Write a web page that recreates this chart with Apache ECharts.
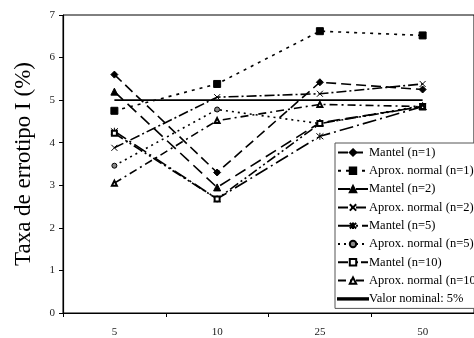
<!DOCTYPE html>
<html>
<head>
<meta charset="utf-8">
<script src="https://cdn.jsdelivr.net/npm/echarts@6/dist/echarts.min.js"></script>
<style>
  html, body { margin: 0; padding: 0; background: #fff; }
  #chart { width: 474px; height: 338px; }
</style>
</head>
<body>
<div id="chart"></div>
<script>
// Sample sizes on the horizontal axis
const categories = ['5', '10', '25', '50'];
const yTicks = [0, 1, 2, 3, 4, 5, 6, 7];

// Type I error rates (%) by test and number of variables
const mantelN1 = [5.60, 3.30, 5.42, 5.25];
const normalN1 = [4.75, 5.38, 6.62, 6.52];
const mantelN2 = [5.20, 2.95, 4.47, 4.85];
const normalN2 = [3.88, 5.07, 5.15, 5.38];
const mantelN5 = [4.27, 2.68, 4.15, 4.85];
const normalN5 = [3.46, 4.78, 4.45, 4.87];
const mantelN10 = [4.22, 2.68, 4.45, 4.85];
const normalN10 = [3.05, 4.52, 4.90, 4.85];
const nominal = [5, 5, 5, 5];

const FONT = '"Liberation Serif", "DejaVu Serif", serif';
const symX = 'path://M0,0L10,10M10,0L0,10';
const symStar = 'path://M0,0L10,10M10,0L0,10M5,-1L5,11';

function mk(name, data, dash, symbol, size, opts) {
  opts = opts || {};
  return {
    name: name,
    type: 'line',
    data: data,
    symbol: symbol,
    symbolSize: size,
    showSymbol: symbol !== 'none',
    animation: false,
    lineStyle: { color: '#000', width: 1.6, type: dash },
    itemStyle: Object.assign({ color: '#000', borderColor: '#000', borderWidth: 1 }, opts.item || {}),
    z: opts.z || 2
  };
}

const chart = echarts.init(document.getElementById('chart'), null, { renderer: 'canvas' });
chart.setOption({
  backgroundColor: '#fff',
  animation: false,
  textStyle: { fontFamily: FONT },
  grid: {
    left: 63, top: 15, right: -13, bottom: 23,
    show: true, borderColor: '#000', borderWidth: 1, backgroundColor: 'transparent'
  },
  xAxis: {
    type: 'category',
    data: categories,
    boundaryGap: true,
    axisLine: { lineStyle: { color: '#000', width: 1.2 } },
    axisTick: { show: true, length: 4, lineStyle: { color: '#000' } },
    axisLabel: { color: '#222', fontFamily: FONT, fontSize: 11, margin: 14 },
    splitLine: { show: false }
  },
  yAxis: {
    type: 'value',
    min: yTicks[0], max: yTicks[yTicks.length - 1], interval: 1,
    name: 'Taxa de errotipo I (%)',
    nameLocation: 'middle',
    nameGap: 28,
    nameTextStyle: { color: '#000', fontFamily: FONT, fontSize: 23 },
    axisLine: { show: true, lineStyle: { color: '#000', width: 1.2 } },
    axisTick: { show: true, length: 4, lineStyle: { color: '#000' } },
    axisLabel: { color: '#222', fontFamily: FONT, fontSize: 11, margin: 8 },
    splitLine: { show: false }
  },
  legend: {
    orient: 'vertical',
    left: 335, top: 143,
    backgroundColor: '#fff',
    borderColor: '#555', borderWidth: 1,
    padding: [3, 4, 3, 2],
    itemWidth: 30, itemHeight: 8, itemGap: 5.3,
    textStyle: { color: '#000', fontFamily: FONT, fontSize: 12.5, padding: [0, 0, 0, -4] },
    data: [
      'Mantel (n=1)', 'Aprox. normal (n=1)', 'Mantel (n=2)', 'Aprox. normal (n=2)',
      'Mantel (n=5)', 'Aprox. normal (n=5)', 'Mantel (n=10)', 'Aprox. normal (n=10)',
      { name: 'Valor nominal: 5%', icon: 'path://M0,0L30,0L30,1.4L0,1.4Z' }
    ]
  },
  series: [
    mk('Valor nominal: 5%', nominal, 'solid', 'none', 0, { z: 1 }),
    mk('Mantel (n=1)', mantelN1, [10, 5], 'diamond', 7),
    mk('Aprox. normal (n=1)', normalN1, [3, 5], 'rect', 7),
    mk('Mantel (n=2)', mantelN2, [12, 6], 'triangle', 7),
    mk('Aprox. normal (n=2)', normalN2, [10, 3, 2, 3], symX, 6, { item: { color: 'none' } }),
    mk('Mantel (n=5)', mantelN5, [14, 4, 2, 4], symStar, 7, { item: { color: 'none' } }),
    mk('Aprox. normal (n=5)', normalN5, [2, 4], 'circle', 5, { item: { color: '#888' } }),
    mk('Mantel (n=10)', mantelN10, [10, 3, 2, 3, 2, 3], 'emptyRect', 5),
    mk('Aprox. normal (n=10)', normalN10, [8, 4, 2, 4], 'emptyTriangle', 5)
  ]
});
</script>
</body>
</html>
